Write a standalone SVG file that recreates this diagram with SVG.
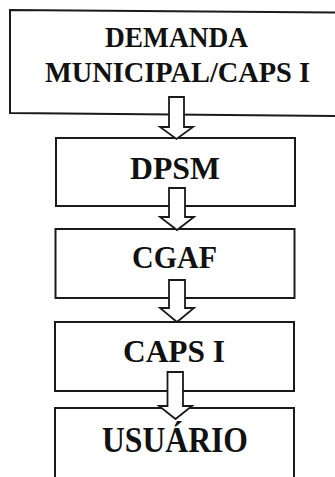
<svg xmlns="http://www.w3.org/2000/svg" width="335" height="477" viewBox="0 0 335 477">
<style>
.box{fill:#fff;stroke:#1a1a1a;stroke-width:2}
.lbl{font-family:"Liberation Serif","Times New Roman",serif;font-weight:bold;fill:#111;text-anchor:middle}
.arr{fill:#fff;stroke:#1a1a1a;stroke-width:1.8;stroke-linejoin:miter}
</style>
<rect width="335" height="477" fill="#fff"/>
<g id="demanda">
<polygon class="box" points="10,10 345,12.5 345,116 10,113"/>
<text class="lbl" x="176.5" y="47" font-size="29.5" textLength="143" lengthAdjust="spacingAndGlyphs">DEMANDA</text>
<text class="lbl" x="177.5" y="82" font-size="29.5" textLength="265" lengthAdjust="spacingAndGlyphs">MUNICIPAL/CAPS I</text>
</g>
<g id="dpsm">
<rect class="box" x="56" y="138" width="239" height="68"/>
<text class="lbl" x="175" y="179" font-size="31" textLength="90" lengthAdjust="spacingAndGlyphs">DPSM</text>
</g>
<g id="cgaf">
<rect class="box" x="55.5" y="229" width="239" height="69"/>
<text class="lbl" x="174.5" y="268" font-size="31" textLength="85" lengthAdjust="spacingAndGlyphs">CGAF</text>
</g>
<g id="caps">
<rect class="box" x="55" y="322" width="239" height="69"/>
<text class="lbl" x="174" y="362" font-size="31" textLength="102" lengthAdjust="spacingAndGlyphs">CAPS I</text>
</g>
<g id="usuario">
<rect class="box" x="55" y="408" width="239" height="100"/>
<text class="lbl" x="175" y="452" font-size="36" textLength="146" lengthAdjust="spacingAndGlyphs">USUÁRIO</text>
</g>
<g id="connectors">
<path class="arr" d="M169,97 H184 V127 H193 L176.5,139 L160,127 H169 Z"/>
<path class="arr" d="M169,188 H185 V217 H194 L177,230 L160,217 H169 Z"/>
<path class="arr" d="M169,280 H185 V308 H194 L177,322 L160,308 H169 Z"/>
<path class="arr" d="M167.5,372 H183 V406 H192 L175.5,419 L159,406 H167.5 Z"/>
</g>
</svg>
